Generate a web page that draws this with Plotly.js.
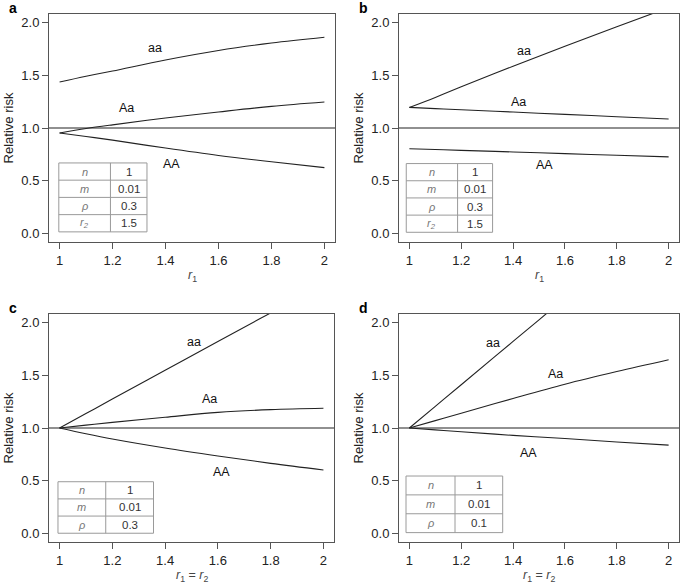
<!DOCTYPE html>
<html>
  <head>
    <meta charset="utf-8" />
    <script src="https://cdn.plot.ly/plotly-3.0.1.min.js"></script>
    <style>
      body { margin: 0; background: #fff; }
    </style>
  </head>
  <body>
    <div id="chart" style="width:685px;height:587px;"></div>
    <script>
      // r1 (or r1 = r2) values where the curves were read
      var xGrid = [1, 1.1, 1.2, 1.4, 1.6, 1.8, 2];

      // panel a
      var aaA = [1.435, 1.49, 1.54, 1.645, 1.735, 1.805, 1.86];
      var AaA = [0.953, 0.995, 1.03, 1.095, 1.152, 1.205, 1.246];
      var AAA = [0.953, 0.92, 0.885, 0.81, 0.74, 0.68, 0.625];
      // panel b
      var aaB = [1.195, 1.29, 1.39, 1.585, 1.775, 1.96, 2.14];
      var AaB = [1.195, 1.184, 1.173, 1.151, 1.129, 1.107, 1.085];
      var AAB = [0.804, 0.796, 0.788, 0.773, 0.757, 0.742, 0.726];
      // panel c
      var aaC = [1.0, 1.137, 1.274, 1.547, 1.82, 2.09, 2.36];
      var AaC = [1.0, 1.027, 1.053, 1.102, 1.148, 1.174, 1.187];
      var AAC = [1.0, 0.945, 0.895, 0.81, 0.735, 0.665, 0.602];
      // panel d
      var aaD = [1.0, 1.205, 1.41, 1.82, 2.23, 2.64, 3.05];
      var AaD = [1.0, 1.07, 1.14, 1.28, 1.415, 1.535, 1.647];
      var AAD = [1.0, 0.982, 0.965, 0.93, 0.90, 0.868, 0.838];

      var genotypes = ['aa', 'Aa', 'AA'];

      // parameter tables
      var paramsAB = ['n', 'm', 'ρ', 'r<sub>2</sub>'];
      var valuesA = ['1', '0.01', '0.3', '1.5'];
      var valuesB = ['1', '0.01', '0.3', '1.5'];
      var paramsCD = ['n', 'm', 'ρ'];
      var valuesC = ['1', '0.01', '0.3'];
      var valuesD = ['1', '0.01', '0.1'];

      var xTicks = [1, 1.2, 1.4, 1.6, 1.8, 2];
      var yTicks = [0, 0.5, 1, 1.5, 2];

      var panels = [
        {
          letter: 'a', series: [aaA, AaA, AAA], params: paramsAB, values: valuesA,
          xTitle: '<i>r</i><sub>1</sub>',
          dom: [[49, 335], [14, 242]],
          labelPos: [[1.361, 1.76], [1.252, 1.19], [1.421, 0.66]],
          table: {x0: 0.997, xDiv: 1.192, x1: 1.330, yTop: 0.669, yBot: 0.016}
        },
        {
          letter: 'b', series: [aaB, AaB, AAB], params: paramsAB, values: valuesB,
          xTitle: '<i>r</i><sub>1</sub>',
          dom: [[399, 679], [14, 242]],
          labelPos: [[1.444, 1.734], [1.421, 1.242], [1.522, 0.646]],
          table: {x0: 0.988, xDiv: 1.186, x1: 1.321, yTop: 0.663, yBot: 0.012}
        },
        {
          letter: 'c', series: [aaC, AaC, AAC], params: paramsCD, values: valuesC,
          xTitle: '<i>r</i><sub>1</sub> = <i>r</i><sub>2</sub>',
          dom: [[49, 334], [314, 542]],
          labelPos: [[1.509, 1.814], [1.569, 1.279], [1.613, 0.586]],
          table: {x0: 0.994, xDiv: 1.175, x1: 1.356, yTop: 0.491, yBot: 0.003}
        },
        {
          letter: 'd', series: [aaD, AaD, AAD], params: paramsCD, values: valuesD,
          xTitle: '<i>r</i><sub>1</sub> = <i>r</i><sub>2</sub>',
          dom: [[399, 679], [314, 542]],
          labelPos: [[1.321, 1.805], [1.563, 1.512], [1.459, 0.759]],
          table: {x0: 0.987, xDiv: 1.176, x1: 1.36, yTop: 0.545, yBot: 0.009}
        }
      ];

      var W = 685, H = 587;
      var lineCol = '#222';
      var tableCol = '#9a9a9a';

      var traces = [];
      var layout = {
        width: W,
        height: H,
        margin: {l: 0, r: 0, t: 0, b: 0},
        paper_bgcolor: '#fff',
        plot_bgcolor: '#fff',
        showlegend: false,
        font: {family: 'Liberation Sans, Arial, sans-serif', size: 12, color: '#222'},
        shapes: [],
        annotations: []
      };

      panels.forEach(function (p, i) {
        var n = i === 0 ? '' : String(i + 1);
        var xa = 'x' + n, ya = 'y' + n;

        for (var k = 0; k < p.series.length; k++) {
          traces.push({
            x: xGrid, y: p.series[k], xaxis: xa, yaxis: ya,
            type: 'scatter', mode: 'lines', name: genotypes[k],
            line: {color: lineCol, width: 1.1, shape: 'spline'},
            hoverinfo: 'skip'
          });
          layout.annotations.push({
            xref: xa, yref: ya, x: p.labelPos[k][0], y: p.labelPos[k][1],
            text: genotypes[k], showarrow: false,
            font: {size: 12.5, color: '#111'}
          });
        }

        // reference line at relative risk 1
        layout.shapes.push({
          type: 'line', xref: xa + ' domain', yref: ya, x0: 0, x1: 1, y0: 1, y1: 1,
          line: {color: lineCol, width: 1.1}
        });

        var axCommon = {
          showline: true, mirror: true, linecolor: '#555', linewidth: 1,
          ticks: 'outside', ticklen: 6, tickcolor: '#555', tickwidth: 1,
          showgrid: false, zeroline: false, fixedrange: true,
          tickfont: {size: 13, color: '#222'}
        };

        layout['xaxis' + n] = Object.assign({}, axCommon, {
          domain: [p.dom[0][0] / W, p.dom[0][1] / W],
          anchor: ya,
          range: [0.96, 2.04],
          tickvals: xTicks,
          ticktext: xTicks.map(String)
        });
        layout['yaxis' + n] = Object.assign({}, axCommon, {
          domain: [1 - p.dom[1][1] / H, 1 - p.dom[1][0] / H],
          anchor: xa,
          range: [-0.08, 2.08],
          tickvals: yTicks,
          ticktext: yTicks.map(function (v) { return v.toFixed(1); }),
          title: {text: 'Relative risk', font: {size: 13, color: '#222'}, standoff: 4}
        });

        // x axis title, set just under the tick labels
        layout.annotations.push({
          xref: xa + ' domain', yref: ya + ' domain', x: 0.5, y: 0,
          yshift: -34, yanchor: 'middle',
          text: p.xTitle, showarrow: false,
          font: {size: 12.5, color: '#444'}
        });

        // panel letter
        layout.annotations.push({
          xref: 'paper', yref: 'paper',
          x: (p.dom[0][0] - 42) / W, y: 1 - (p.dom[1][0] - 6) / H,
          xanchor: 'left', yanchor: 'middle',
          text: '<b>' + p.letter + '</b>', showarrow: false,
          font: {size: 14, color: '#000'}
        });

        // parameter table
        var t = p.table;
        var rows = p.params.length;
        var rowH = (t.yTop - t.yBot) / rows;
        var tl = {color: tableCol, width: 1};
        layout.shapes.push({type: 'rect', xref: xa, yref: ya, x0: t.x0, x1: t.x1, y0: t.yBot, y1: t.yTop, line: tl, fillcolor: '#fff'});
        layout.shapes.push({type: 'line', xref: xa, yref: ya, x0: t.xDiv, x1: t.xDiv, y0: t.yBot, y1: t.yTop, line: tl});
        for (var r = 0; r < rows; r++) {
          var yc = t.yTop - (r + 0.5) * rowH;
          if (r > 0) {
            layout.shapes.push({type: 'line', xref: xa, yref: ya, x0: t.x0, x1: t.x1, y0: t.yTop - r * rowH, y1: t.yTop - r * rowH, line: tl});
          }
          layout.annotations.push({
            xref: xa, yref: ya, x: (t.x0 + t.xDiv) / 2, y: yc,
            text: '<i>' + p.params[r] + '</i>', showarrow: false,
            font: {size: 11, color: '#777'}
          });
          layout.annotations.push({
            xref: xa, yref: ya, x: (t.xDiv + t.x1) / 2, y: yc,
            text: p.values[r], showarrow: false,
            font: {size: 11.5, color: '#333'}
          });
        }
      });

      Plotly.newPlot('chart', traces, layout, {displayModeBar: false, staticPlot: true});
    </script>
  </body>
</html>
